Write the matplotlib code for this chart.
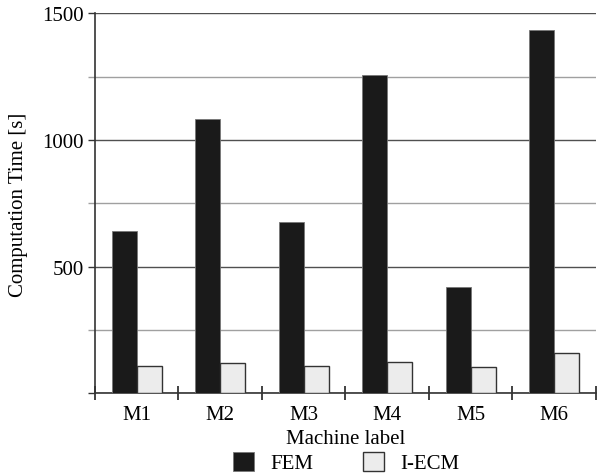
import numpy as np
import matplotlib.pyplot as plt
from matplotlib.ticker import MultipleLocator, FuncFormatter

plt.rcParams['font.family'] = ['Liberation Serif', 'DejaVu Serif']
plt.rcParams['font.size'] = 15

machines = ["M1", "M2", "M3", "M4", "M5", "M6"]
fem = [642, 1084, 678, 1257, 421, 1436]
iecm = [109, 120, 107, 124, 103, 158]

x = np.arange(len(machines))
w = 0.3

fig = plt.figure(figsize=(5.97, 4.77), dpi=100)
ax = fig.add_axes([0.159, 0.173, 0.839, 0.797])

ax.bar(x - w/2, fem, w, color="#1a1a1a", edgecolor="#777777", linewidth=0.6, label="FEM", zorder=3)
ax.bar(x + w/2, iecm, w, color="#ececec", edgecolor="#333333", linewidth=1.0, label="I-ECM", zorder=3)

ax.set_xlim(-0.5, len(machines) - 0.5)
ax.set_ylim(0, 1500)

ax.yaxis.set_major_locator(MultipleLocator(500))
ax.yaxis.set_minor_locator(MultipleLocator(250))
ax.yaxis.set_major_formatter(FuncFormatter(lambda v, p: "" if v == 0 else f"{v:.0f}"))
ax.grid(axis="y", which="major", color="#505050", linewidth=1.0, zorder=0)
ax.grid(axis="y", which="minor", color="#a0a0a0", linewidth=1.0, zorder=0)
ax.tick_params(axis="y", which="major", direction="out", length=5, width=1, color="#333333", pad=3)
ax.tick_params(axis="y", which="minor", direction="out", length=5, width=1, color="#a0a0a0")

ax.set_xticks(x)
ax.set_xticklabels(machines)
ax.set_xticks(np.arange(-0.5, len(machines)), minor=True)
ax.tick_params(axis="x", which="major", length=0, pad=8)
ax.tick_params(axis="x", which="minor", direction="inout", length=10, width=1.2, color="#222222")

for s in ["top", "right"]:
    ax.spines[s].set_visible(False)
for s in ["left", "bottom"]:
    ax.spines[s].set_color("#333333")
    ax.spines[s].set_linewidth(1.2)

ax.set_xlabel("Machine label", labelpad=4)
ax.set_ylabel("Computation Time [s]", labelpad=10)

fig.legend(loc="center", bbox_to_anchor=(0.58, 0.028), ncol=2, frameon=False,
           handlelength=1.0, handleheight=1.0, handletextpad=0.8,
           columnspacing=2.4, borderaxespad=0, borderpad=0)

fig.savefig("out.png", dpi=100)
